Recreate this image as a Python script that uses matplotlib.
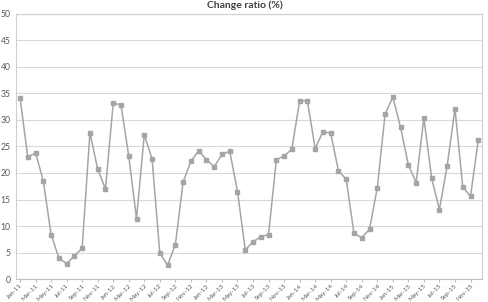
import matplotlib.pyplot as plt

plt.rcParams['font.family'] = ['Lato', 'DejaVu Sans']

years = ['11', '12', '13', '14', '15']
month_names = ['Jan', 'Feb', 'Mar', 'Apr', 'May', 'Jun',
               'Jul', 'Aug', 'Sep', 'Oct', 'Nov', 'Dec']
months = [f'{m}-{y}' for y in years for m in month_names]

change_ratio = [
    34.2, 23.0, 23.8, 18.5, 8.4, 4.0, 2.9, 4.4, 5.8, 27.6, 20.7, 17.0,
    33.2, 32.8, 23.2, 11.4, 27.2, 22.7, 4.9, 2.6, 6.5, 18.3, 22.2, 24.2,
    22.5, 21.2, 23.5, 24.1, 16.5, 5.5, 7.0, 8.0, 8.4, 22.5, 23.2, 24.5,
    33.6, 33.6, 24.6, 27.8, 27.5, 20.4, 18.8, 8.6, 7.8, 9.4, 17.2, 31.1,
    34.3, 28.6, 21.5, 18.2, 30.4, 19.0, 13.1, 21.4, 32.1, 17.4, 15.6, 26.2,
]

gray = '#a5a5a5'
text_gray = '#595959'

fig = plt.figure(figsize=(4.89, 3.02), dpi=100)
ax = fig.add_axes([0.033, 0.076, 0.953, 0.878])

x = list(range(len(months)))
ax.plot(x, change_ratio, color=gray, linewidth=1.1, marker='s',
        markersize=3.5, markerfacecolor=gray, markeredgecolor=gray)

ax.set_xlim(-0.5, len(months) - 0.5)
ax.set_ylim(0, 50)
ax.set_yticks(range(0, 51, 5))
ax.yaxis.grid(True, color='#d9d9d9', linewidth=0.8)
ax.set_axisbelow(True)

ax.set_xticks(x[::2])
ax.set_xticklabels(months[::2], rotation=45, ha='right',
                   rotation_mode='anchor', fontsize=4.6, color=text_gray)
ax.tick_params(axis='x', length=2, color='#bfbfbf', pad=1)
ax.tick_params(axis='y', length=0, labelsize=6.2, labelcolor=text_gray, pad=4)

for s in ax.spines.values():
    s.set_color('#d0d0d0')
    s.set_linewidth(0.8)
ax.spines['bottom'].set_color('#bfbfbf')

# title sits at the very top edge, as in the original
fig.text(0.5, 0.997, 'Change ratio (%)', ha='center', va='top',
         fontsize=7.5, fontweight='bold', color='#404040')

fig.savefig('out.png', dpi=100)
